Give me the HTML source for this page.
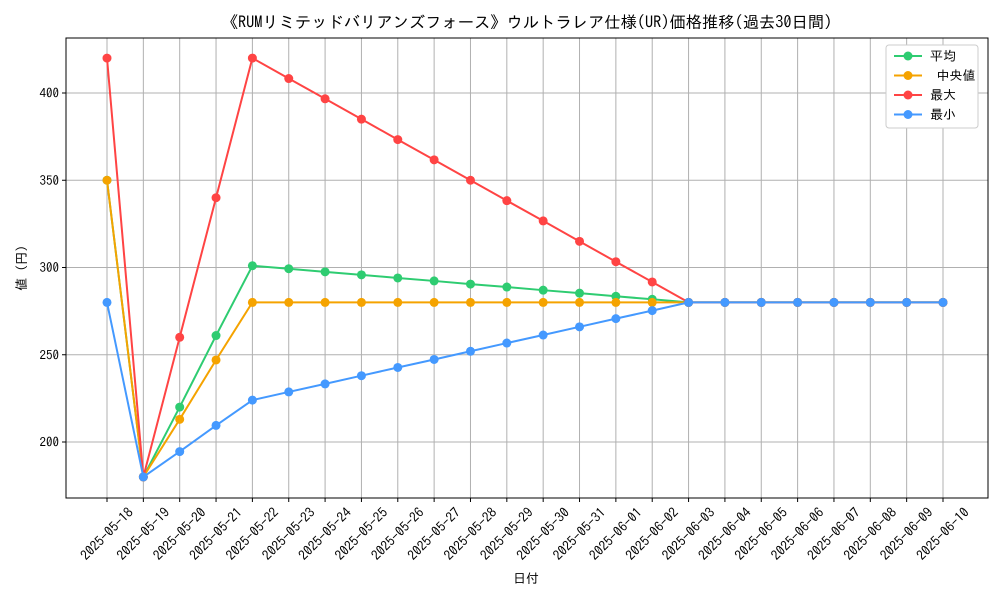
<!DOCTYPE html>
<html><head><meta charset="utf-8">
<style>
body{margin:0;background:#fff;}
svg{display:block;font-family:"IPAGothic","Liberation Sans","Noto Sans CJK JP",sans-serif;}
</style></head>
<body>
<svg id="chart" width="1000" height="600"></svg>
<script>
const dates=["2025-05-18","2025-05-19","2025-05-20","2025-05-21","2025-05-22","2025-05-23","2025-05-24","2025-05-25","2025-05-26","2025-05-27","2025-05-28","2025-05-29","2025-05-30","2025-05-31","2025-06-01","2025-06-02","2025-06-03","2025-06-04","2025-06-05","2025-06-06","2025-06-07","2025-06-08","2025-06-09","2025-06-10"];
const avgValues=[350,180,220,261,301,299.3,297.5,295.8,294,292.3,290.5,288.8,287,285.3,283.5,281.8,280,280,280,280,280,280,280,280];
const medianValues=[350,180,213,247,280,280,280,280,280,280,280,280,280,280,280,280,280,280,280,280,280,280,280,280];
const maxValues=[420,180,260,340,420,408.3,396.7,385,373.3,361.7,350,338.3,326.7,315,303.3,291.7,280,280,280,280,280,280,280,280];
const minValues=[280,180,194.5,209.5,224,228.7,233.3,238,242.7,247.3,252,256.7,261.3,266,270.7,275.3,280,280,280,280,280,280,280,280];
const yTicks=[200,250,300,350,400];
const seriesNames=["平均","\u00a0中央値","最大","最小"];

const NS="http://www.w3.org/2000/svg";
const svg=document.getElementById('chart');
const L=66,R=988,T=38,B=498;
const x=i=>107+i*(943-107)/(dates.length-1);
const y=v=>442-(v-200)*(442-93)/200;
function mk(tag,attrs,parent){const e=document.createElementNS(NS,tag);for(const k in attrs)e.setAttribute(k,attrs[k]);(parent||svg).appendChild(e);return e;}

dates.forEach((d,i)=>{
  const g=mk('line',{x1:x(i),x2:x(i),y1:T,y2:B,stroke:'#b0b0b0','stroke-width':1});
  
  
  const tk=mk('line',{x1:x(i),x2:x(i),y1:B,y2:B+4,stroke:'#000'});
  
  
  const cx=x(i),cy=B+36;
  const t=mk('text',{x:cx,y:cy+4.5,'font-size':13.5,'text-anchor':'middle',transform:`rotate(-45 ${cx} ${cy})`});
  t.textContent=d;
  
  
});
yTicks.forEach(v=>{
  const g=mk('line',{x1:L,x2:R,y1:y(v),y2:y(v),stroke:'#b0b0b0','stroke-width':1});
  
  
  const tk=mk('line',{x1:L-4,x2:L,y1:y(v),y2:y(v),stroke:'#000'});
  
  
  const t=mk('text',{x:L-7,y:y(v)+4.5,'font-size':13,'text-anchor':'end'});
  t.textContent=v;
  
  
});
const frame=mk('rect',{x:L,y:T,width:R-L,height:B-T,fill:'none',stroke:'#000','stroke-width':1});



const series=[[avgValues,'#2ecc71','avg'],[medianValues,'#f5a300','median'],[maxValues,'#ff4444','max'],[minValues,'#4499ff','min']];
series.forEach(([vals,c,n])=>{
  const g=mk('g',{});
  
  
  const p=mk('polyline',{points:vals.map((v,i)=>x(i)+','+y(v)).join(' '),fill:'none',stroke:c,'stroke-width':2},g);
  
  
  vals.forEach((v,i)=>{
    const m=mk('circle',{cx:x(i),cy:y(v),r:4.5,fill:c},g);
    
    
  });
});

const title=mk('text',{x:527,y:28,'font-size':16.3,'text-anchor':'middle'});
title.textContent='《RUMリミテッドバリアンズフォース》ウルトラレア仕様(UR)価格推移(過去30日間)';


const xl=mk('text',{x:526,y:583,'font-size':13,'text-anchor':'middle'});
xl.textContent='日付';


const yl=mk('text',{x:26,y:268,'font-size':13,'text-anchor':'middle',transform:'rotate(-90 26 268)'});
yl.textContent='値 (円)';



const lg=mk('g',{});


const lb=mk('rect',{x:886,y:45,width:92,height:83,fill:'#fff',stroke:'#ccc',rx:3},lg);


series.forEach(([vals,c,n],k)=>{
  const yy=56+k*19.5;
  const e=mk('g',{},lg);
  
  
  mk('line',{x1:894,x2:922,y1:yy,y2:yy,stroke:c,'stroke-width':2},e);
  mk('circle',{cx:908,cy:yy,r:4.5,fill:c},e);
  const t=mk('text',{x:930,y:yy+4.5,'font-size':13},e);
  t.textContent=seriesNames[k];
});
</script>
</body></html>
